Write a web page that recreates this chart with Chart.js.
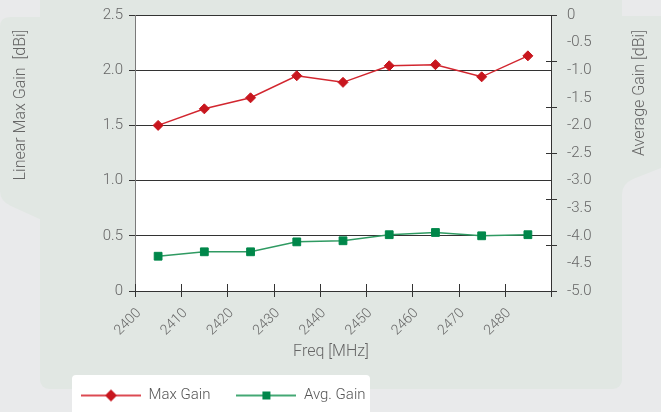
<!DOCTYPE html>
<html>
<head>
<meta charset="utf-8">
<script src="https://cdn.jsdelivr.net/npm/chart.js@4/dist/chart.umd.min.js"></script>
<style>
  html, body { margin: 0; padding: 0; width: 661px; height: 412px; overflow: hidden; background: #e9eaeb; }
  #bg { position: absolute; left: 0; top: 0; }
  #wrap { position: absolute; left: 0; top: 0; width: 661px; height: 412px; }
</style>
</head>
<body>
<svg id="bg" width="661" height="412" xmlns="http://www.w3.org/2000/svg">
  <!-- side tabs and main panel -->
  <path d="M0,27 Q0,17 10,17 L44,17 L44,221 L11,206 Q0,201 0,191 Z" fill="#e1e7e3"/>
  <path d="M612,16 L661,16 L661,168 L633,179 Q622,184 622,194 L612,194 Z" fill="#e1e7e3"/>
  <rect x="40" y="-20" width="582" height="409" rx="9" ry="9" fill="#e1e7e3"/>
  <!-- legend card -->
  <rect x="72" y="375" width="298" height="50" rx="4" ry="4" fill="#ffffff"/>
</svg>
<div id="wrap"><canvas id="chart" width="661" height="412"></canvas></div>
<script>
// Frequencies of the measured points (MHz)
const freqs = [2405, 2415, 2425, 2435, 2445, 2455, 2465, 2475, 2485];
// Linear max gain, left axis (dBi)
const maxGain = [1.50, 1.65, 1.75, 1.95, 1.89, 2.04, 2.05, 1.94, 2.13];
// Average gain, right axis (dBi)
const avgGain = [-4.37, -4.29, -4.29, -4.11, -4.09, -3.98, -3.94, -4.00, -3.98];

// Tick labels
const xTickLabels = ['2400', '2410', '2420', '2430', '2440', '2450', '2460', '2470', '2480'];
const leftTickLabels = ['0', '0.5', '1.0', '1.5', '2.0', '2.5'];
const rightTickLabels = ['-5.0', '-4.5', '-4.0', '-3.5', '-3.0', '-2.5', '-2.0', '-1.5', '-1.0', '-0.5', '0'];

// Tick marks on the right axis are spaced in sixths of its range
const avgTickMarks = Array.from({ length: 7 }, (_, i) => -i * 5 / 6);

const RED = '#c8161e';
const RED_LINE = '#d2262f';
const GREEN = '#00874a';
const GREEN_LINE = '#2f9a62';
const TEXT = '#666666';
const FONT = 'Roboto, "Liberation Sans", sans-serif';

// Legend symbols: a short line with the series marker in the middle
function legendSymbol(lineColor, markColor, shape) {
  const c = document.createElement('canvas');
  c.width = 60; c.height = 14;
  const g = c.getContext('2d');
  g.strokeStyle = lineColor; g.lineWidth = 2;
  g.beginPath(); g.moveTo(0, 7); g.lineTo(60, 7); g.stroke();
  g.fillStyle = markColor;
  g.beginPath();
  if (shape === 'diamond') {
    g.moveTo(30, 1); g.lineTo(36, 7); g.lineTo(30, 13); g.lineTo(24, 7);
  } else {
    g.rect(26, 3, 8, 8);
  }
  g.closePath(); g.fill();
  return c;
}
const legendSymbols = [
  legendSymbol('#dc4a52', RED, 'diamond'),
  legendSymbol('#44a874', GREEN, 'square')
];

const decorations = {
  id: 'decorations',
  beforeDraw(chart) {
    const { ctx, chartArea: a } = chart;
    ctx.save();
    ctx.fillStyle = '#ffffff';
    ctx.fillRect(a.left, a.top, a.right - a.left, a.bottom - a.top);
    ctx.restore();
  },
  afterDraw(chart) {
    const { ctx, chartArea: a, scales } = chart;
    ctx.save();
    // crossing tick marks on the frequency axis and the right axis
    ctx.strokeStyle = '#333333';
    ctx.lineWidth = 1;
    ctx.beginPath();
    scales.x.ticks.forEach(t => {
      const px = Math.round(scales.x.getPixelForValue(t.value)) + 0.5;
      ctx.moveTo(px, a.bottom - 7);
      ctx.lineTo(px, a.bottom + 6);
    });
    avgTickMarks.forEach(v => {
      const py = Math.round(scales.y1.getPixelForValue(v)) + 0.5;
      ctx.moveTo(a.right - 5, py);
      ctx.lineTo(a.right + 6, py);
    });
    ctx.stroke();

    // axis titles
    ctx.fillStyle = TEXT;
    ctx.font = '300 16px ' + FONT;
    ctx.textAlign = 'center';
    ctx.textBaseline = 'middle';
    ctx.fillText('Freq [MHz]', 331, 352);
    ctx.save();
    ctx.translate(21, 105);
    ctx.rotate(-Math.PI / 2);
    ctx.fillText('Linear Max Gain  [dBi]', 0, 0);
    ctx.restore();
    ctx.save();
    ctx.translate(640, 93);
    ctx.rotate(-Math.PI / 2);
    ctx.fillText('Average Gain [dBi]', 0, 0);
    ctx.restore();
    ctx.restore();
  }
};

new Chart(document.getElementById('chart'), {
  type: 'line',
  data: {
    datasets: [
      {
        label: 'Max Gain',
        data: freqs.map((f, i) => ({ x: f, y: maxGain[i] })),
        yAxisID: 'y',
        borderColor: RED_LINE,
        borderWidth: 1.5,
        pointStyle: 'rectRot',
        pointRadius: 5,
        pointBorderWidth: 1,
        pointBackgroundColor: RED,
        pointBorderColor: RED,
        tension: 0
      },
      {
        label: 'Avg. Gain',
        data: freqs.map((f, i) => ({ x: f, y: avgGain[i] })),
        yAxisID: 'y1',
        borderColor: GREEN_LINE,
        borderWidth: 1.5,
        pointStyle: 'rect',
        pointRadius: 5.5,
        pointBorderWidth: 1,
        pointBackgroundColor: GREEN,
        pointBorderColor: GREEN,
        tension: 0
      }
    ]
  },
  options: {
    responsive: false,
    animation: false,
    layout: { padding: { left: 55, right: 0, top: 15, bottom: -1 } },
    scales: {
      x: {
        type: 'linear',
        min: 2400,
        max: 2490,
        afterFit: s => { s.height = 71; },
        grid: { display: false, drawTicks: false },
        border: { display: true, color: '#333333', width: 1 },
        ticks: {
          stepSize: 10,
          autoSkip: false,
          minRotation: 45,
          maxRotation: 45,
          padding: 14,
          labelOffset: 4,
          color: TEXT,
          font: { family: FONT, size: 14, weight: '300' },
          callback: (v, i) => xTickLabels[i] ?? ''
        }
      },
      y: {
        position: 'left',
        min: 0,
        max: 2.5,
        afterFit: s => { s.width = 80; },
        grid: { color: '#333333', lineWidth: 1, tickLength: 6, drawTicks: true },
        border: { display: true, color: '#7a7a7a', width: 1 },
        ticks: {
          stepSize: 0.5,
          padding: 6,
          color: TEXT,
          font: { family: FONT, size: 15, weight: '300' },
          callback: (v, i) => leftTickLabels[i]
        }
      },
      y1: {
        position: 'right',
        min: -5,
        max: 0,
        afterFit: s => { s.width = 110; },
        grid: { display: false, drawTicks: true, tickLength: 10 },
        border: { display: true, color: '#333333', width: 1 },
        ticks: {
          stepSize: 0.5,
          padding: 6,
          color: TEXT,
          font: { family: FONT, size: 15, weight: '300' },
          callback: (v, i) => rightTickLabels[i]
        }
      }
    },
    plugins: {
      tooltip: { enabled: false },
      legend: {
        position: 'bottom',
        align: 'start',
        labels: {
          usePointStyle: true,
          pointStyleWidth: 60,
          padding: 26,
          color: '#555555',
          font: { family: FONT, size: 15, weight: '300' },
          generateLabels: chart => Chart.defaults.plugins.legend.labels.generateLabels(chart)
            .map((item, i) => Object.assign(item, { pointStyle: legendSymbols[i] }))
        }
      }
    }
  },
  plugins: [decorations]
});
</script>
</body>
</html>
